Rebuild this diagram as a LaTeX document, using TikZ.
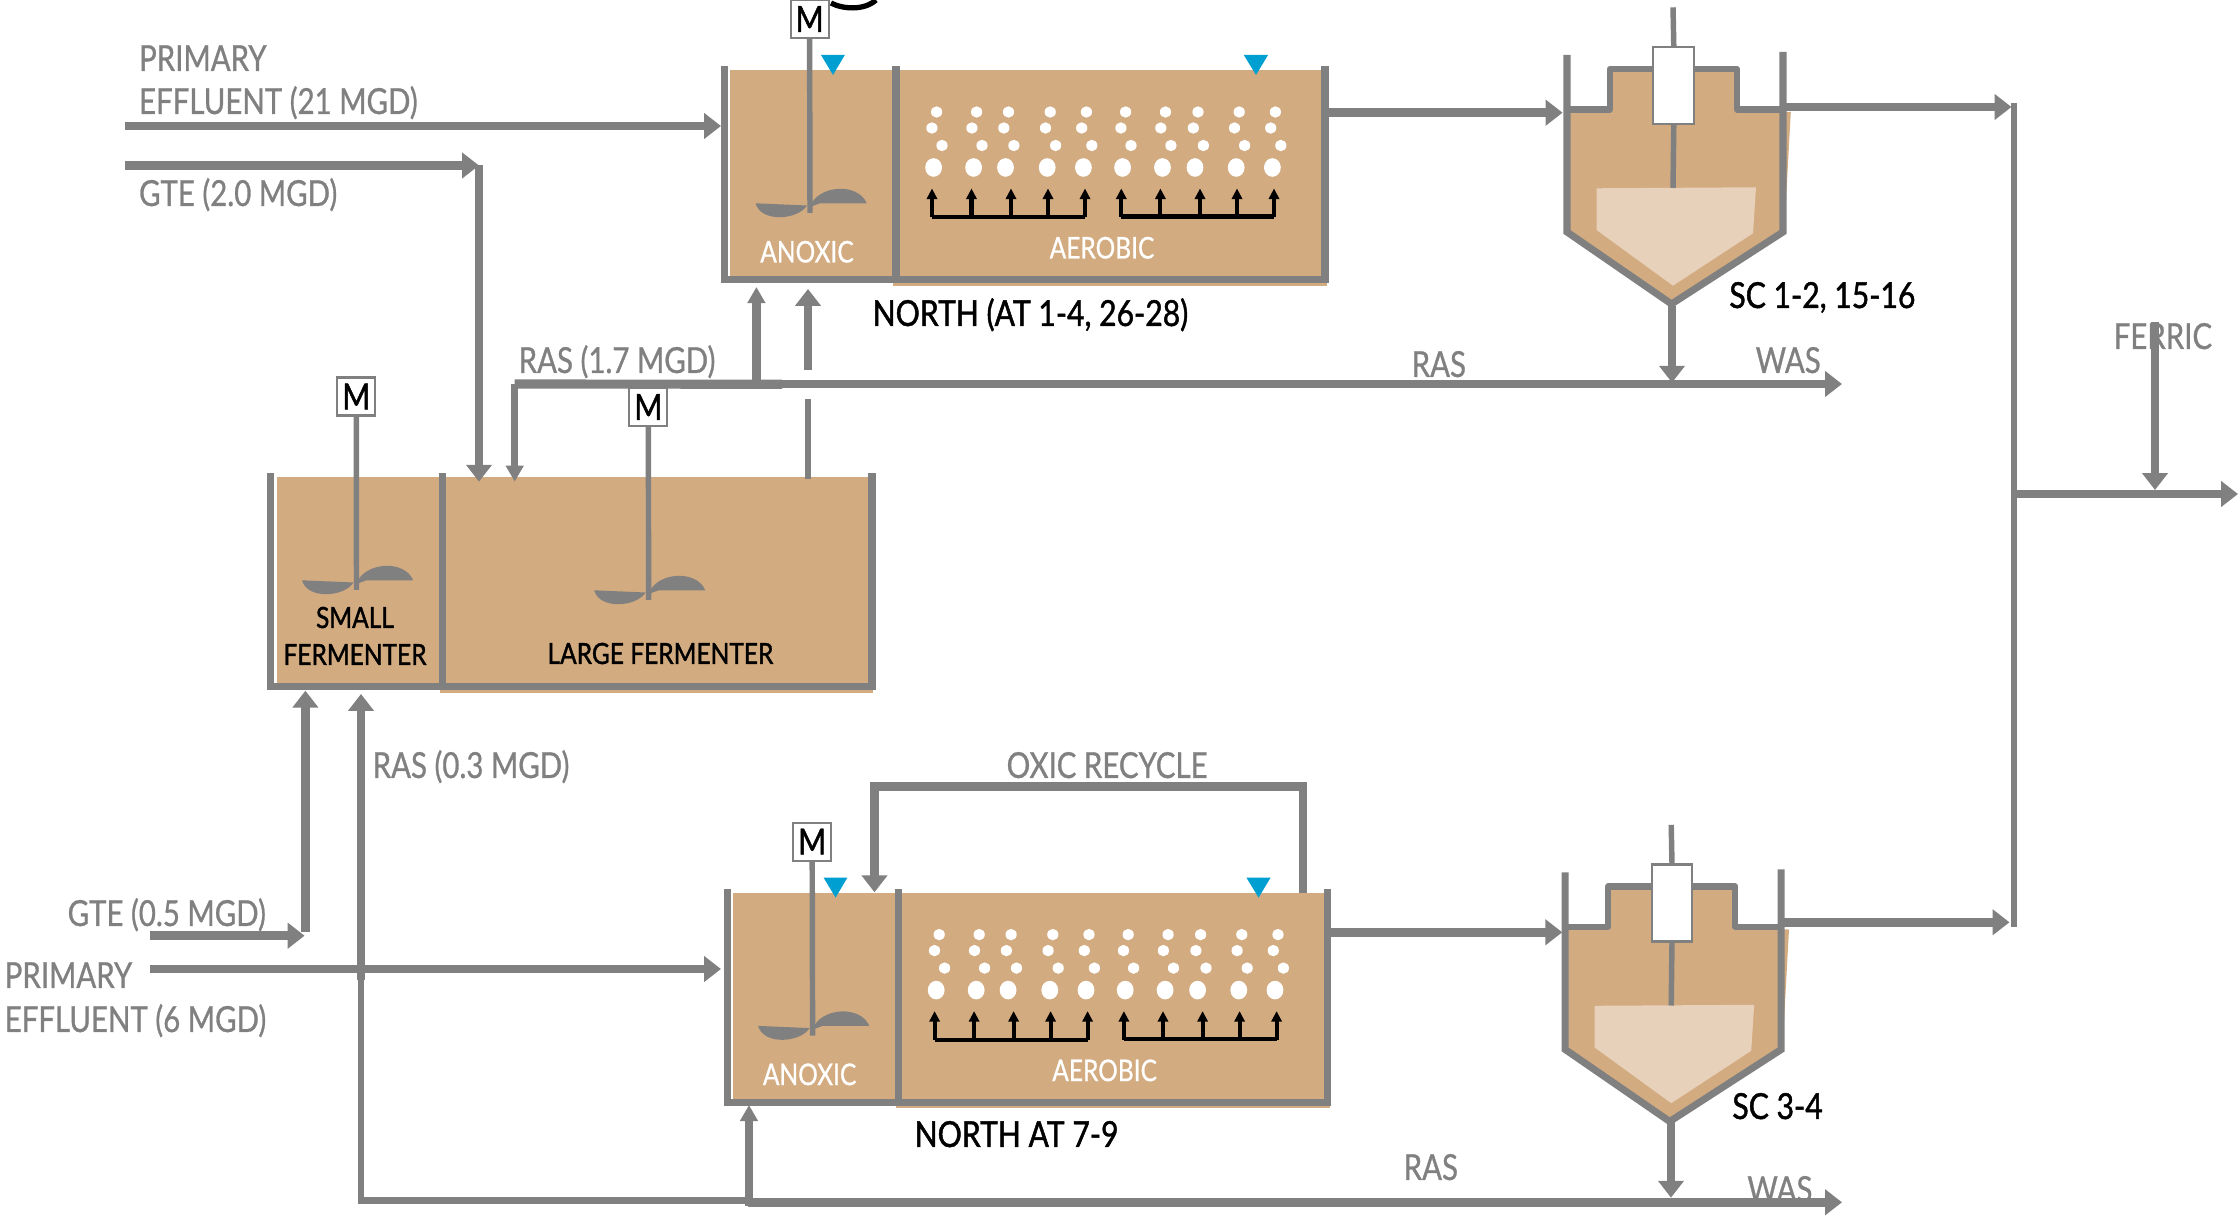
\documentclass[tikz,border=0pt]{standalone}
\usepackage{fontspec}
\usetikzlibrary{arrows.meta}
\newfontfamily\lblfont[FakeStretch=0.82,FakeBold=0.8]{Lato}
\newfontfamily\blkfont[FakeStretch=0.84,FakeBold=1.3]{Lato}
\definecolor{pipegray}{HTML}{808080}
\definecolor{liquor}{HTML}{D3AB80}
\definecolor{sludge}{HTML}{E8D1BB}
\definecolor{level}{HTML}{009FD2}
\tikzset{
 pipe/.style={draw=pipegray,line width=2.4pt},
 widetip/.style={-{Triangle[length=4.8pt,width=7.1pt]}},
 narrowtip/.style={-{Triangle[length=4.6pt,width=4.9pt]}},
 wall/.style={draw=pipegray,line width=2pt},
 shaft/.style={draw=pipegray,line width=1.55pt},
 riser/.style={draw=black,line width=1.15pt,-{Triangle[length=3pt,width=2.9pt]}},
 lbl/.style={font=\lblfont\fontsize{10.2}{12}\selectfont,anchor=base west,inner sep=0pt},
 graylbl/.style={lbl,text=pipegray},
 whitelbl/.style={lbl,text=white,anchor=base,font=\lblfont\fontsize{8.5}{11}\selectfont},
 blacklbl/.style={lbl,text=black,font=\blkfont\fontsize{10.2}{12}\selectfont},
 fermlbl/.style={lbl,text=black,anchor=base,font=\blkfont\fontsize{8.3}{11}\selectfont},
 motor/.style={draw=pipegray,line width=0.6pt,fill=white,minimum size=10.8pt,inner sep=0pt,
  font=\blkfont\fontsize{10.2}{12}\selectfont},
 impeller/.pic={
  \fill[pipegray] (-54.5,-9.7) -- (-3,-7.5) .. controls (-12,7) and (-49,10) .. cycle;
  \fill[pipegray] (0,-6) .. controls (7,-28) and (48,-31) .. (56.7,-9.7) -- (10,-9.7) -- cycle;
 },
}
\begin{document}
\begin{tikzpicture}[x=0.01cm,y=-0.01cm]
 \clip (0,0) rectangle (2238,1216);
 %
 \draw[black,line width=1.5pt] (831,3) .. controls (842,9) and (864,11) .. (876,0);

 % aeration tanks
 \foreach \tk/\dx/\dy in {n/0/0,s/2.6/822.6}{
 \begin{scope}[shift={(\dx,\dy)}]
  \fill[liquor] (730.3,70) rectangle (893,280);
  \fill[liquor] (893,70) rectangle (1327,285.7);
  \draw[wall] (724.8,66) -- (724.8,279.5) -- (1325,279.5) -- (1325,66);
  \draw[wall] (896,66) -- (896,279.5);
  \fill[level] (821,55) -- (844.8,55) -- (833,75) -- cycle;
  \fill[level] (1243.8,55) -- (1268,55) -- (1256,75) -- cycle;
  %
  \foreach \x in {933.6,973.6,1005.5,1047.2,1083.4,1122.6,1162.5,1195,1236.2,1272.4}{
   \fill[white] (\x,167.5) ellipse [x radius=8.4,y radius=9.3];
   \fill[white] (\x+8.4,145.5) ellipse [x radius=5.6,y radius=5.7];
   \fill[white] (\x-1.7,128) ellipse [x radius=5.6,y radius=5.7];
   \fill[white] (\x+3,112) ellipse [x radius=5.6,y radius=5.7];
  }
  %
  \draw[black,line width=1.15pt] (932,217.3) -- (1085,217.3);
  \draw[black,line width=1.15pt] (1121.3,216.5) -- (1274,216.5);
  \foreach \x in {932,971.5,1011,1048,1085,1121.3,1160.4,1200,1237,1274}{
   \draw[riser] (\x,217) -- (\x,188.5);
  }
  %
  \node[motor] (m\tk) at (809.6,19) {M};
  \coordinate (e\tk) at (810,213);
  \draw[shaft] (m\tk.south) -- (e\tk);
  \pic at (e\tk) {impeller};
  \node[whitelbl] (anox\tk) at (807,262.5) {ANOXIC};
  \node[whitelbl] (aer\tk) at (1102,258.5) {AEROBIC};
 \end{scope}
 }

 % fermenters
 \fill[liquor] (277,476.7) rectangle (440,687);
 \fill[liquor] (440,476.7) rectangle (873,692.7);
 \draw[wall] (270.7,473) -- (270.7,686.7) -- (872,686.7) -- (872,473);
 \draw[wall] (442.7,473) -- (442.7,686.7);
 \node[motor] (msmall) at (356.3,396.5) {M};
 \coordinate (esmall) at (356.5,590);
 \draw[shaft] (msmall.south) -- (esmall);
 \pic at (esmall) {impeller};
 \node[motor] (mlarge) at (648.4,407) {M};
 \coordinate (elarge) at (648.6,600);
 \draw[shaft] (mlarge.south) -- (elarge);
 \pic at (elarge) {impeller};
 \node[fermlbl] (smalltxt) at (355,628) {SMALL};
 \node[fermlbl] (fermtxt) at (355,665) {FERMENTER};
 \node[fermlbl] (largetxt) at (660.4,664) {LARGE FERMENTER};

 % clarifiers
 \foreach \sc/\dx/\dy in {a/0/0,b/-1.8/817.5}{
 \begin{scope}[shift={(\dx,\dy)}]
  \fill[liquor] (1567,112) -- (1612,112) -- (1612,70) -- (1735,70) -- (1735,112) -- (1790.8,112)
   -- (1786,200) -- (1783,232) -- (1671.5,304) -- (1567,232) -- cycle;
  \draw[wall] (1567,55) -- (1567,232) -- (1671.5,304) -- (1783,232) -- (1783,52);
  \draw[wall,line width=1.8pt,line join=round] (1567,109.5) -- (1610,109.5) -- (1610,69) -- (1737,69) -- (1737,109.5) -- (1783,109.5);
  \fill[sludge] (1596.5,188.3) -- (1756,187.3) -- (1753,233.3) -- (1673,285.7) -- (1596.5,230) -- cycle;
  \node[draw=pipegray,line width=0.6pt,fill=white,minimum width=11.6pt,minimum height=21.9pt,inner sep=0pt] (weir\sc) at (1673.8,85.5) {};
  \coordinate (top\sc) at (1673,7.3);
  \coordinate (bot\sc) at (1673,188);
  \draw[shaft] (top\sc) -- (weir\sc.north);
  \draw[shaft] (weir\sc.south) -- (bot\sc);
 \end{scope}
 }
 \node[blacklbl] (sca) at (1728.7,308) {SC 1-2, 15-16};
 \node[blacklbl] (scb) at (1731.7,1119) {SC 3-4};

 % labels under the pipes
 \node[blacklbl] (northa) at (872,326) {NORTH (AT 1-4, 26-28)};
 \node[blacklbl] (northb) at (914,1147) {NORTH AT 7-9};
 \node[graylbl] (pe1) at (138.4,71) {PRIMARY};
 \node[graylbl] (pe2) at (138.4,114) {EFFLUENT (21 MGD)};
 \node[graylbl] (gte1) at (138.4,206) {GTE (2.0 MGD)};
 \node[graylbl] (ras1) at (518,373) {RAS (1.7 MGD)};
 \node[graylbl] (rasa) at (1411,377) {RAS};
 \node[graylbl] (wasa) at (1755,373) {WAS};
 \node[graylbl] (ferric) at (2113,349) {FERRIC};
 \node[graylbl] (ras2) at (372,778) {RAS (0.3 MGD)};
 \node[graylbl] (oxic) at (1006,778) {OXIC RECYCLE};
 \node[graylbl] (gte2) at (67,926) {GTE (0.5 MGD)};
 \node[graylbl] (pe3) at (4,988) {PRIMARY};
 \node[graylbl] (pe4) at (4,1032) {EFFLUENT (6 MGD)};
 \node[graylbl] (rasb) at (1403,1180) {RAS};
 \node[graylbl] (wasb) at (1746.7,1202) {WAS};

 % pipes
 \coordinate (pein) at (125,126);
 \coordinate (peout) at (721,126);
 \draw[pipe,widetip] (pein) -- (peout);
 \coordinate (gtein) at (125,165.5);
 \coordinate (gtebend) at (479,165.5);
 \coordinate (gteout) at (479,481.7);
 \draw[pipe,widetip] (gtein) -- (gtebend);
 \draw[pipe,widetip] (gtebend) -- (gteout);
 \coordinate (rasin) at (514.7,481.7);
 \coordinate (rasbend) at (514.7,384);
 \coordinate (wasout) at (1842,384);
 \draw[pipe,widetip,line width=2.3pt] (rasbend) -- (wasout);
 \draw[pipe,narrowtip,line width=2.1pt] (rasbend) -- (rasin);
 \coordinate (rasjoin) at (756.4,384);
 \coordinate (anoxin) at (756.4,287);
 \coordinate (rasthick) at (782,384.3);
 \draw[pipe,line width=2.6pt] (rasbend) -- (rasthick);
 \draw[pipe,narrowtip] (rasjoin) -- (anoxin);
 \coordinate (ferma) at (808,479);
 \coordinate (fermb) at (808,399);
 \coordinate (fermc) at (808,370);
 \coordinate (fermd) at (808,289);
 \draw[shaft,line width=1.8pt] (ferma) -- (fermb);
 \draw[pipe,widetip] (fermc) -- (fermd);
 \coordinate (sca1) at (1325,112.7);
 \coordinate (sca2) at (1562.6,112.7);
 \draw[pipe,widetip] (sca1) -- (sca2);
 \coordinate (sca3) at (1786,107);
 \coordinate (sca4) at (2011.5,107);
 \draw[pipe,widetip] (sca3) -- (sca4);
 \coordinate (sca5) at (1672,306);
 \coordinate (sca6) at (1672,382.7);
 \draw[pipe,widetip] (sca5) -- (sca6);
 \coordinate (coltop) at (2013.7,103.3);
 \coordinate (colbot) at (2013.7,927.5);
 \draw[wall,line width=1.75pt] (coltop) -- (colbot);
 \coordinate (out1) at (2013.7,494);
 \coordinate (out2) at (2238,494);
 \draw[pipe,widetip] (out1) -- (out2);
 \coordinate (fer1) at (2155,321.7);
 \coordinate (fer2) at (2155,490);
 \draw[pipe,widetip] (fer1) -- (fer2);
 %
 \coordinate (gtes1) at (149.5,935.7);
 \coordinate (gtes2) at (304.6,935.7);
 \draw[pipe,widetip] (gtes1) -- (gtes2);
 \coordinate (gtes3) at (305.4,931.7);
 \coordinate (gtes4) at (305.4,690.7);
 \draw[pipe,widetip] (gtes3) -- (gtes4);
 \coordinate (pes1) at (150,969);
 \coordinate (pes2) at (721,969);
 \draw[pipe,widetip] (pes1) -- (pes2);
 \coordinate (rs1) at (361,1201);
 \coordinate (rs2) at (361,980);
 \coordinate (rs3) at (361,694);
 \draw[shaft] (rs1) -- (rs2);
 \draw[pipe,widetip,line width=2.25pt] (rs2) -- (rs3);
 \coordinate (rs4) at (358,1200.7);
 \coordinate (rs5) at (749,1200.7);
 \draw[wall,line width=1.85pt] (rs4) -- (rs5);
 \coordinate (rs6) at (749,1206);
 \coordinate (rs7) at (749,1105);
 \draw[pipe,narrowtip] (rs6) -- (rs7);
 \coordinate (rs8) at (748,1202.3);
 \coordinate (rs9) at (1842,1202.3);
 \draw[pipe,widetip] (rs8) -- (rs9);
 \coordinate (oxa) at (1303,893);
 \coordinate (oxb) at (1303,786.5);
 \coordinate (oxc) at (874.5,786.5);
 \coordinate (oxd) at (874.5,892.3);
 \draw[pipe,widetip] (oxa) -- (oxb) -- (oxc) -- (oxd);
 \coordinate (scb1) at (1330,932.3);
 \coordinate (scb2) at (1562.3,932.3);
 \draw[pipe,widetip] (scb1) -- (scb2);
 \coordinate (scb3) at (1784,922.3);
 \coordinate (scb4) at (2009.5,922.3);
 \draw[pipe,widetip] (scb3) -- (scb4);
 \coordinate (scb5) at (1671,1118);
 \coordinate (scb6) at (1671,1197.7);
 \draw[pipe,widetip] (scb5) -- (scb6);
\end{tikzpicture}
\end{document}
